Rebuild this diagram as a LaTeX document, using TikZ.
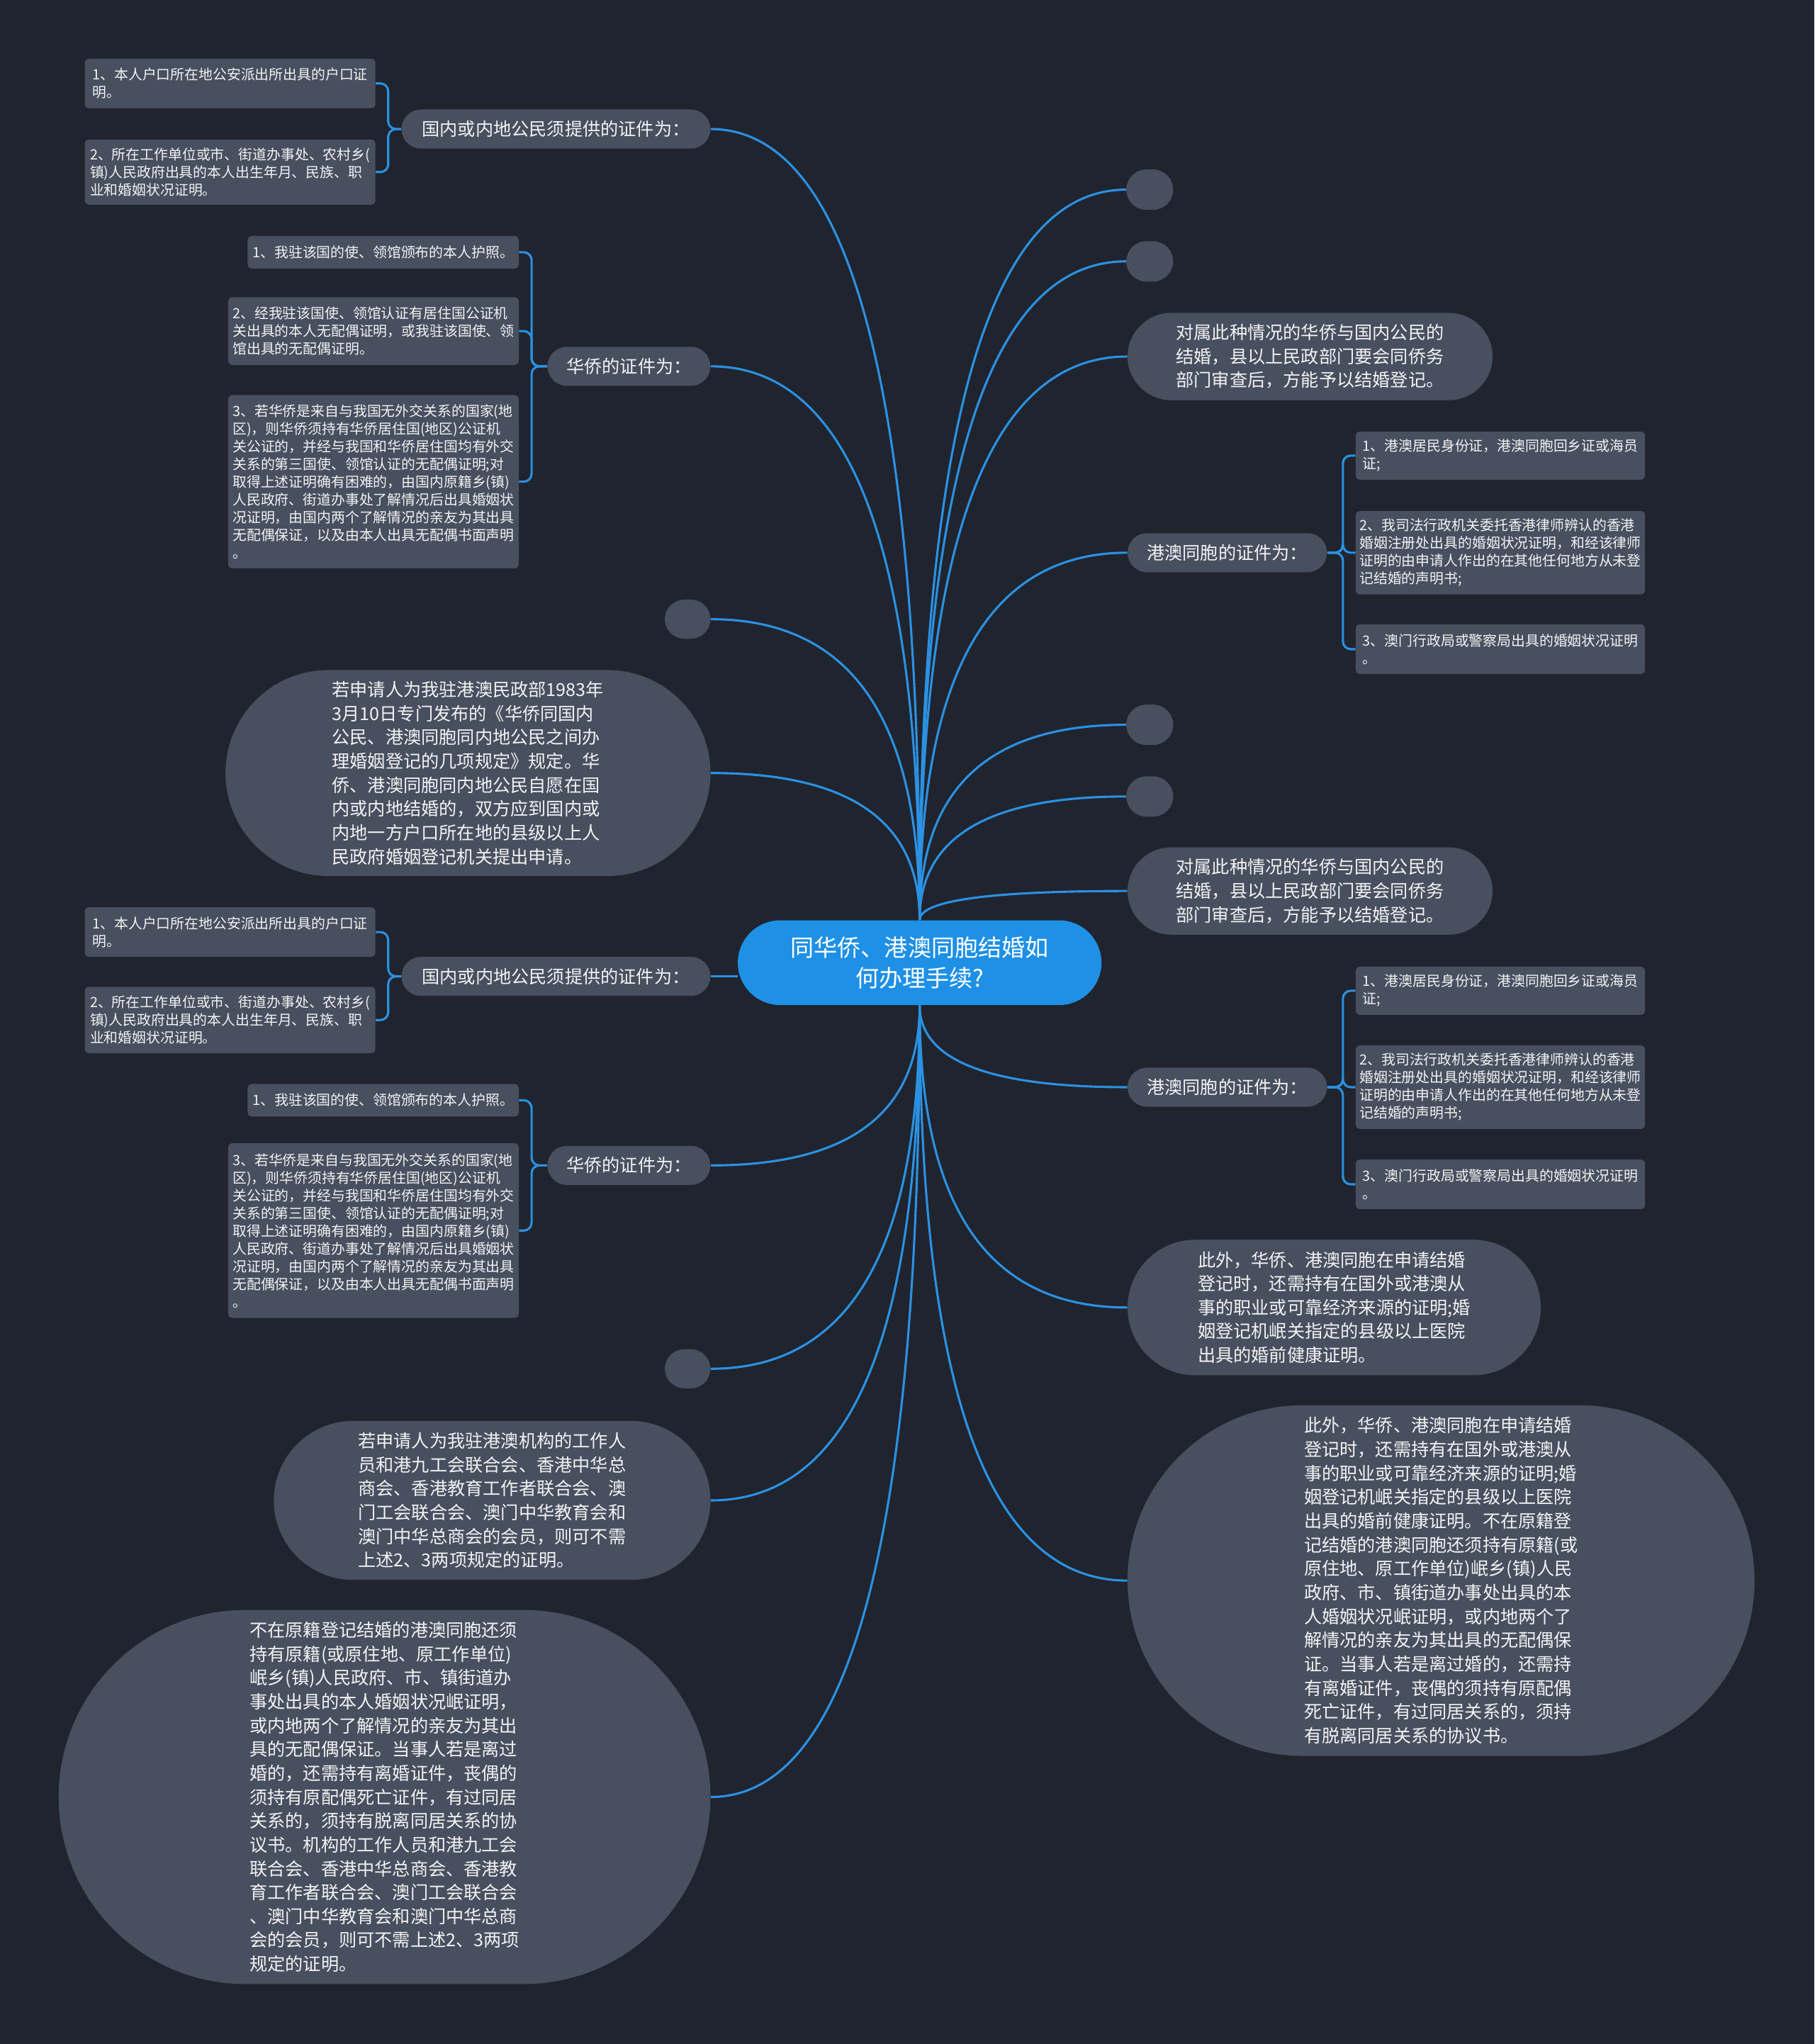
\documentclass[tikz,border=0pt]{standalone}
\usepackage{fontspec}
\setmainfont{Noto Sans CJK SC}
\usepackage{tikz}
\usetikzlibrary{calc}
\definecolor{night}{HTML}{20242E}
\definecolor{slate}{HTML}{484F5E}
\definecolor{topic}{HTML}{1E90E6}
\definecolor{wire}{HTML}{2B91E2}
\definecolor{ink}{HTML}{F2F3F5}
\newcommand{\bigtxt}{\fontsize{13.7}{18.3}\selectfont}
\newcommand{\smalltxt}{\fontsize{10.8}{13.6}\selectfont}

\begin{document}
\begin{tikzpicture}[x=1pt,y=-1pt,
    pill/.style={fill=slate,text=ink,rounded corners=#1,inner sep=0pt,align=left,font=\bigtxt},
    leaf/.style={fill=slate,text=ink,rounded corners=3pt,inner sep=0pt,align=left,font=\smalltxt},
    link/.style={draw=wire,line width=1.7pt},
    brace/.style={link,rounded corners=6pt}]
        \fill[night] (0,0) rectangle (1392,1568);
        \node[fill=topic,text=white,rounded corners=32.5pt,minimum width=279pt,minimum height=65pt,inner sep=0pt,align=center,font=\fontsize{18}{23}\selectfont] (root) at (705.5,738.5) {同华侨、港澳同胞结婚如\\何办理手续?};
        \node[pill=15.5pt,minimum width=36pt,minimum height=31pt] (e1) at (882,145.5) {};
        \node[pill=15.5pt,minimum width=36pt,minimum height=31pt] (e2) at (882,200.5) {};
        \node[pill=33.5pt,minimum width=280pt,minimum height=67pt] (r1) at (1005,273.5) {对属此种情况的华侨与国内公民的\\结婚，县以上民政部门要会同侨务\\部门审查后，方能予以结婚登记。};
        \node[pill=15pt,minimum width=153pt,minimum height=30pt] (r2) at (941.5,424) {港澳同胞的证件为：};
        \node[leaf,minimum width=222pt,minimum height=37pt] (r2a) at (1151,349.5) {1、港澳居民身份证，港澳同胞回乡证或海员\\证;};
        \node[leaf,minimum width=222pt,minimum height=64pt] (r2b) at (1151,424) {2、我司法行政机关委托香港律师辨认的香港\\婚姻注册处出具的婚姻状况证明，和经该律师\\证明的由申请人作出的在其他任何地方从未登\\记结婚的声明书;};
        \node[leaf,minimum width=222pt,minimum height=38pt] (r2c) at (1151,498) {3、澳门行政局或警察局出具的婚姻状况证明\\。};
        \node[pill=15.5pt,minimum width=36pt,minimum height=31pt] (e3) at (882,556) {};
        \node[pill=15.5pt,minimum width=36pt,minimum height=31pt] (e4) at (882,611) {};
        \node[pill=33.5pt,minimum width=280pt,minimum height=67pt] (r3) at (1005,683.5) {对属此种情况的华侨与国内公民的\\结婚，县以上民政部门要会同侨务\\部门审查后，方能予以结婚登记。};
        \node[pill=15pt,minimum width=153pt,minimum height=30pt] (r4) at (941.5,834) {港澳同胞的证件为：};
        \node[leaf,minimum width=222pt,minimum height=37pt] (r4a) at (1151,760) {1、港澳居民身份证，港澳同胞回乡证或海员\\证;};
        \node[leaf,minimum width=222pt,minimum height=64pt] (r4b) at (1151,834) {2、我司法行政机关委托香港律师辨认的香港\\婚姻注册处出具的婚姻状况证明，和经该律师\\证明的由申请人作出的在其他任何地方从未登\\记结婚的声明书;};
        \node[leaf,minimum width=222pt,minimum height=38pt] (r4c) at (1151,908.5) {3、澳门行政局或警察局出具的婚姻状况证明\\。};
        \node[pill=52pt,minimum width=317pt,minimum height=104pt] (r5) at (1023.5,1003) {此外，华侨、港澳同胞在申请结婚\\登记时，还需持有在国外或港澳从\\事的职业或可靠经济来源的证明;婚\\姻登记机岷关指定的县级以上医院\\出具的婚前健康证明。};
        \node[pill=134.5pt,minimum width=481pt,minimum height=269pt] (r6) at (1105.5,1212.5) {此外，华侨、港澳同胞在申请结婚\\登记时，还需持有在国外或港澳从\\事的职业或可靠经济来源的证明;婚\\姻登记机岷关指定的县级以上医院\\出具的婚前健康证明。不在原籍登\\记结婚的港澳同胞还须持有原籍(或\\原住地、原工作单位)岷乡(镇)人民\\政府、市、镇街道办事处出具的本\\人婚姻状况岷证明，或内地两个了\\解情况的亲友为其出具的无配偶保\\证。当事人若是离过婚的，还需持\\有离婚证件，丧偶的须持有原配偶\\死亡证件，有过同居关系的，须持\\有脱离同居关系的协议书。};
        \node[pill=15pt,minimum width=237pt,minimum height=30pt] (l1) at (426.5,99) {国内或内地公民须提供的证件为：};
        \node[leaf,minimum width=223pt,minimum height=38pt] (l1a) at (176.5,64) {1、本人户口所在地公安派出所出具的户口证\\明。};
        \node[leaf,minimum width=223pt,minimum height=50pt] (l1b) at (176.5,132) {2、所在工作单位或市、街道办事处、农村乡(\\镇)人民政府出具的本人出生年月、民族、职\\业和婚姻状况证明。};
        \node[pill=15pt,minimum width=125pt,minimum height=30pt] (l2) at (482.5,281) {华侨的证件为：};
        \node[leaf,minimum width=208pt,minimum height=25pt] (l2a) at (294,193.5) {1、我驻该国的使、领馆颁布的本人护照。};
        \node[leaf,minimum width=223pt,minimum height=52pt] (l2b) at (286.5,254) {2、经我驻该国使、领馆认证有居住国公证机\\关出具的本人无配偶证明，或我驻该国使、领\\馆出具的无配偶证明。};
        \node[leaf,minimum width=223pt,minimum height=133pt] (l2c) at (286.5,369.5) {3、若华侨是来自与我国无外交关系的国家(地\\区)，则华侨须持有华侨居住国(地区)公证机\\关公证的，并经与我国和华侨居住国均有外交\\关系的第三国使、领馆认证的无配偶证明;对\\取得上述证明确有困难的，由国内原籍乡(镇)\\人民政府、街道办事处了解情况后出具婚姻状\\况证明，由国内两个了解情况的亲友为其出具\\无配偶保证，以及由本人出具无配偶书面声明\\。};
        \node[pill=15pt,minimum width=35pt,minimum height=30pt] (e5) at (527.5,475) {};
        \node[pill=79pt,minimum width=372pt,minimum height=158pt] (l3) at (359,593) {若申请人为我驻港澳民政部1983年\\3月10日专门发布的《华侨同国内\\公民、港澳同胞同内地公民之间办\\理婚姻登记的几项规定》规定。华\\侨、港澳同胞同内地公民自愿在国\\内或内地结婚的，双方应到国内或\\内地一方户口所在地的县级以上人\\民政府婚姻登记机关提出申请。};
        \node[pill=15pt,minimum width=237pt,minimum height=30pt] (l4) at (426.5,749) {国内或内地公民须提供的证件为：};
        \node[leaf,minimum width=223pt,minimum height=38pt] (l4a) at (176.5,715) {1、本人户口所在地公安派出所出具的户口证\\明。};
        \node[leaf,minimum width=223pt,minimum height=51pt] (l4b) at (176.5,782.5) {2、所在工作单位或市、街道办事处、农村乡(\\镇)人民政府出具的本人出生年月、民族、职\\业和婚姻状况证明。};
        \node[pill=15pt,minimum width=125pt,minimum height=30pt] (l5) at (482.5,894) {华侨的证件为：};
        \node[leaf,minimum width=208pt,minimum height=25pt] (l5a) at (294,844) {1、我驻该国的使、领馆颁布的本人护照。};
        \node[leaf,minimum width=223pt,minimum height=134pt] (l5b) at (286.5,944) {3、若华侨是来自与我国无外交关系的国家(地\\区)，则华侨须持有华侨居住国(地区)公证机\\关公证的，并经与我国和华侨居住国均有外交\\关系的第三国使、领馆认证的无配偶证明;对\\取得上述证明确有困难的，由国内原籍乡(镇)\\人民政府、街道办事处了解情况后出具婚姻状\\况证明，由国内两个了解情况的亲友为其出具\\无配偶保证，以及由本人出具无配偶书面声明\\。};
        \node[pill=15pt,minimum width=35pt,minimum height=30pt] (e6) at (527.5,1050) {};
        \node[pill=61pt,minimum width=335pt,minimum height=122pt] (l6) at (377.5,1151) {若申请人为我驻港澳机构的工作人\\员和港九工会联合会、香港中华总\\商会、香港教育工作者联合会、澳\\门工会联合会、澳门中华教育会和\\澳门中华总商会的会员，则可不需\\上述2、3两项规定的证明。};
        \node[pill=143.5pt,minimum width=500pt,minimum height=287pt] (l7) at (295,1378.5) {不在原籍登记结婚的港澳同胞还须\\持有原籍(或原住地、原工作单位)\\岷乡(镇)人民政府、市、镇街道办\\事处出具的本人婚姻状况岷证明，\\或内地两个了解情况的亲友为其出\\具的无配偶保证。当事人若是离过\\婚的，还需持有离婚证件，丧偶的\\须持有原配偶死亡证件，有过同居\\关系的，须持有脱离同居关系的协\\议书。机构的工作人员和港九工会\\联合会、香港中华总商会、香港教\\育工作者联合会、澳门工会联合会\\、澳门中华教育会和澳门中华总商\\会的会员，则可不需上述2、3两项\\规定的证明。};
        \foreach \n in {e1,e2,r1,r2,e3,e4,r3}
          \draw[link] (root.north) .. controls ($(root.north)!0.67!(root.north|-\n.west)$) and ($(root.north|-\n.west)!0.33!(\n.west)$) .. (\n.west);
        \foreach \n in {r4,r5,r6}
          \draw[link] (root.south) .. controls ($(root.south)!0.67!(root.south|-\n.west)$) and ($(root.south|-\n.west)!0.33!(\n.west)$) .. (\n.west);
        \foreach \n in {l1,l2,e5,l3}
          \draw[link] (root.north) .. controls ($(root.north)!0.67!(root.north|-\n.east)$) and ($(root.north|-\n.east)!0.33!(\n.east)$) .. (\n.east);
        \foreach \n in {l5,e6,l6,l7}
          \draw[link] (root.south) .. controls ($(root.south)!0.67!(root.south|-\n.east)$) and ($(root.south|-\n.east)!0.33!(\n.east)$) .. (\n.east);
        \draw[link] (l4.east) -- (root.west|-l4.east);
        \foreach \p/\k in {r2/r2a,r2/r2b,r2/r2c,r4/r4a,r4/r4b,r4/r4c}
          \draw[brace] (\p.east) -- ++(12,0) |- (\k.west);
        \foreach \p/\k in {l1/l1a,l1/l1b,l4/l4a,l4/l4b}
          \draw[brace] (\p.west) -- ++(-10,0) |- (\k.east);
        \foreach \p/\k in {l2/l2a,l2/l2b,l2/l2c,l5/l5a,l5/l5b}
          \draw[brace] (\p.west) -- ++(-12,0) |- (\k.east);
      \end{tikzpicture}
\end{document}
